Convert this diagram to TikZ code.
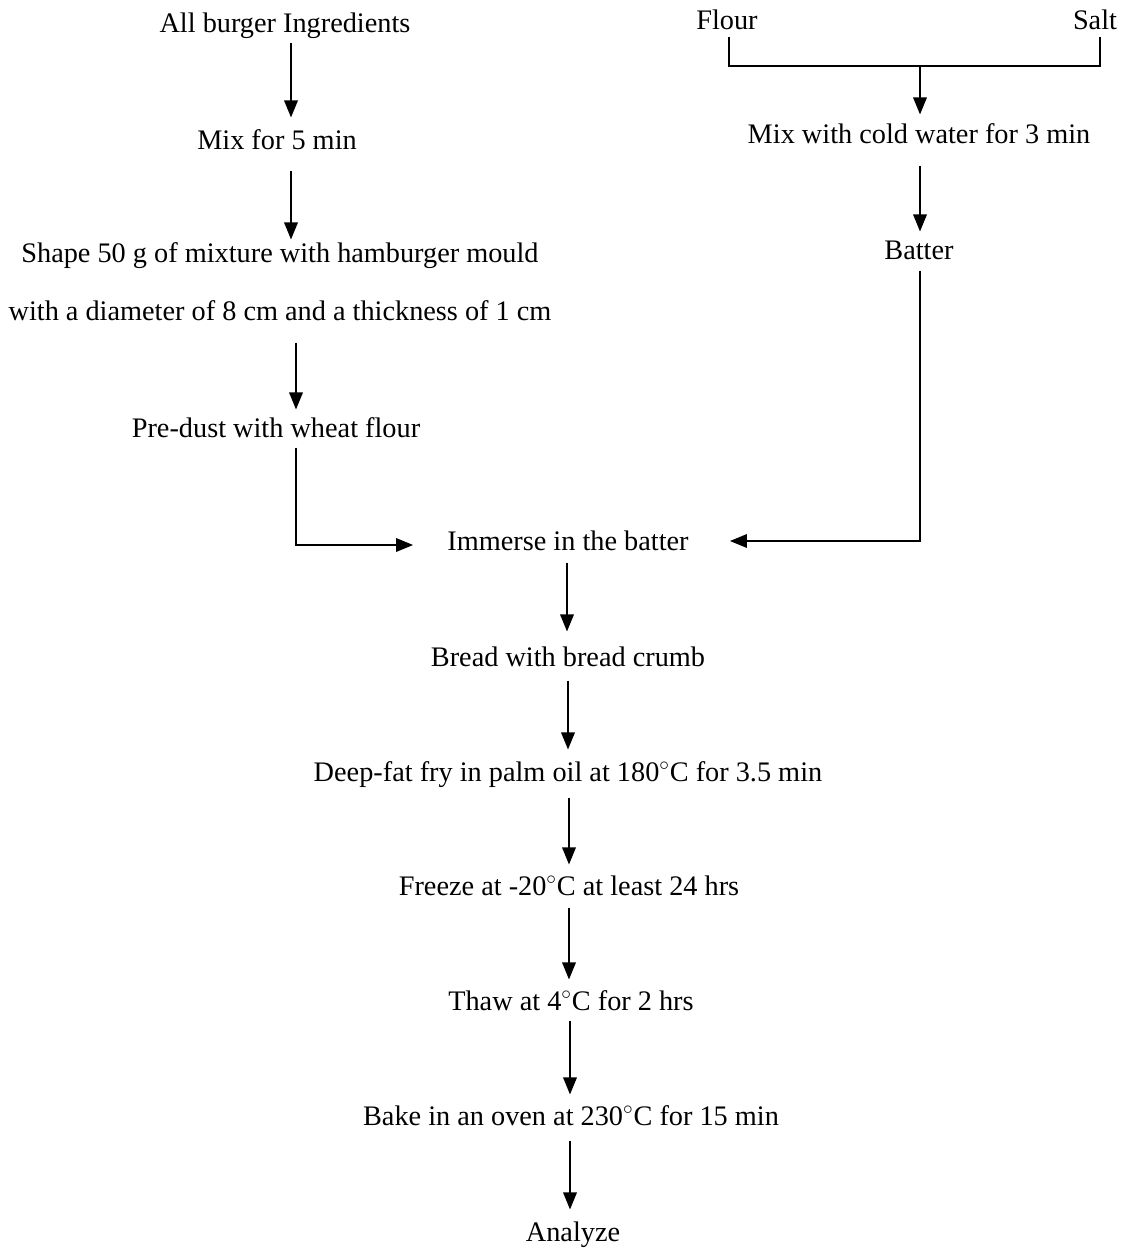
\documentclass[tikz,border=0pt]{standalone}
\usepackage{fontspec}
\setmainfont{Liberation Serif}
\usetikzlibrary{arrows.meta,calc}
\begin{document}
\begin{tikzpicture}[x=0.02cm,y=-0.02cm,
  lbl/.style={inner sep=0pt,text height=11.5pt,text depth=3.5pt,font=\fontsize{16.1}{20}\selectfont},
  arr/.style={line width=1pt,-{Triangle[length=0.34cm,width=0.27cm]}},
  ln/.style={line width=1pt}]
\useasboundingbox[fill=white] (0,0) rectangle (1127,1250);
% left column
\node[lbl] (ing) at (285,25) {All burger Ingredients};
\node[lbl] (mix5) at (277,142) {Mix for 5 min};
\node[lbl] (shapeA) at (280,255) {Shape 50 g of mixture with hamburger mould};
\node[lbl] (shapeB) at (280,313) {with a diameter of 8 cm and a thickness of 1 cm};
\node[lbl] (predust) at (276,430) {Pre-dust with wheat flour};
% right column
\node[lbl] (flour) at (727,22) {Flour};
\node[lbl] (salt) at (1095,22) {Salt};
\node[lbl] (mixcold) at (919,136) {Mix with cold water for 3 min};
\node[lbl] (batter) at (919,252) {Batter};
% centre column
\node[lbl] (immerse) at (568,543) {Immerse in the batter};
\node[lbl] (bread) at (568,659) {Bread with bread crumb};
\node[lbl] (fry) at (568,774) {Deep-fat fry in palm oil at 180$^{\circ}$C for 3.5 min};
\node[lbl] (freeze) at (569,888) {Freeze at -20$^{\circ}$C at least 24 hrs};
\node[lbl] (thaw) at (571,1003) {Thaw at 4$^{\circ}$C for 2 hrs};
\node[lbl] (bake) at (571,1118) {Bake in an oven at 230$^{\circ}$C for 15 min};
\node[lbl] (analyze) at (573,1234) {Analyze};
% connectors, left
\draw[arr] ($(ing.south)+(6,4)$) -- ($(mix5.north)+(14,-11)$);
\draw[arr] ($(mix5.south)+(14,15)$) -- ($(shapeA.north)+(11,-2)$);
\draw[arr] ($(shapeB.south)+(16,16)$) -- ($(predust.north)+(20,-7)$);
\draw[arr] ($(predust.south)+(20,4)$) |- ($(immerse.west)+(-34,2)$);
% connectors, right
\coordinate (join) at (920,66);
\draw[ln] ($(flour.south)+(2,1)$) |- (join) -| ($(salt.south)+(5,1)$);
\draw[arr] (join) -- ($(mixcold.north)+(1,-8)$);
\draw[arr] ($(mixcold.south)+(1,16)$) -- ($(batter.north)+(1,-7)$);
\draw[arr] ($(batter.south)+(1,5)$) |- ($(immerse.east)+(41,-2)$);
% connectors, centre
\draw[arr] ($(immerse.south)+(-1,6)$) -- ($(bread.north)+(-1,-14)$);
\draw[arr] ($(bread.south)+(0,8)$) -- ($(fry.north)+(0,-11)$);
\draw[arr] ($(fry.south)+(1,10)$) -- ($(freeze.north)+(0,-10)$);
\draw[arr] ($(freeze.south)+(0,6)$) -- ($(thaw.north)+(-2,-10)$);
\draw[arr] ($(thaw.south)+(-1,4)$) -- ($(bake.north)+(-1,-10)$);
\draw[arr] ($(bake.south)+(-1,9)$) -- ($(analyze.north)+(-3,-11)$);
\end{tikzpicture}
\end{document}
